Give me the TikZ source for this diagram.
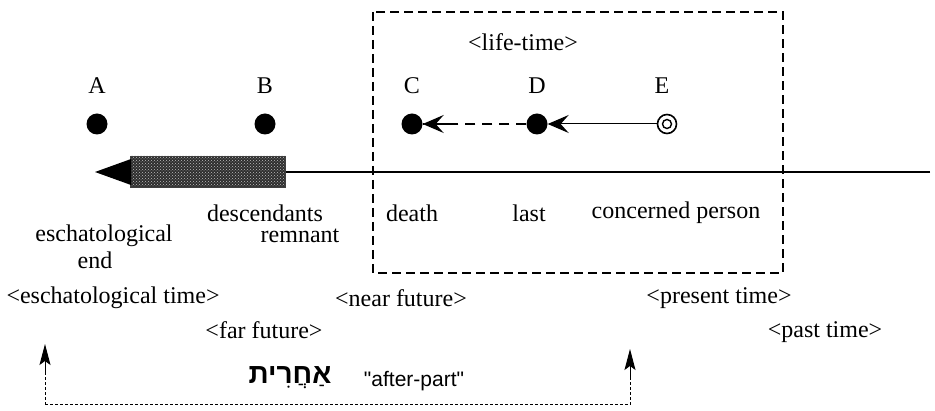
\documentclass[tikz,border=0pt]{standalone}
\usepackage{fontspec}
\setmainfont{Liberation Serif}
\newfontfamily\hebfont[Script=Hebrew]{Liberation Sans}
\newfontfamily\helv{Liberation Sans}
\TeXXeTstate=1
\usetikzlibrary{arrows.meta,patterns}
\begin{document}
\begin{tikzpicture}[x=1pt,y=-1pt,
  lbl/.style={inner sep=0pt,font=\fontsize{24}{28}\selectfont},
  dot/.style={circle,fill=black,inner sep=0pt,minimum size=21pt},
  barb/.style={-{Stealth[length=21pt,width=18pt,inset=8pt]}},
  bracket/.style={densely dashed,line width=1pt},
  brtip/.style={solid,line width=1pt,-{Stealth[length=21pt,width=11pt,inset=4pt]}}]
\useasboundingbox (0,0) rectangle (935,411);
% life-time box
\draw[line width=1.3pt,dash pattern=on 9pt off 5pt] (373,12) rectangle (783,273);
\node[lbl] (life) at (523,42) {<life-time>};
% point labels
\node[lbl] (lA) at (97,86) {A};
\node[lbl] (lB) at (265,86) {B};
\node[lbl] (lC) at (412,86) {C};
\node[lbl] (lD) at (537,86) {D};
\node[lbl] (lE) at (662,86) {E};
% dots
\node[dot] (A) at (97,124) {};
\node[dot] (B) at (265,124) {};
\node[dot] (C) at (412,124) {};
\node[dot] (D) at (537,124) {};
\node[circle,draw,line width=1.6pt,minimum size=19pt,inner sep=0pt] (E) at (667,124) {};
\node[circle,draw,line width=1.4pt,minimum size=9pt,inner sep=0pt] at (E) {};
% arrows between dots
\draw[barb,line width=1pt] (E.west) -- (D.east);
\draw[line width=1.3pt,dash pattern=on 10pt off 7pt] (D.west) -- (C.east);
\coordinate (cb) at (450,124);
\draw[barb,line width=1.3pt,solid] (cb) -- (C.east);
% timeline
\coordinate (tR) at (930,172);
\coordinate (tM) at (285,172);
\coordinate (tip) at (95,172);
\draw[line width=1.2pt] (tR) -- (tM);
\fill[black!82] (130,156) rectangle (285,187);
\fill[pattern=crosshatch dots,pattern color=white!75!black] (130,156) rectangle (285,187);
\draw[line width=0.8pt,black!75] (130,156) rectangle (285,187);
\fill (tip) -- (131,159) -- (131,185) -- cycle;
% labels under line
\node[lbl] (desc) at (265,213) {descendants};
\node[lbl] (remn) at (300,236) {remnant};
\node[lbl] (esch) at (104,236) {eschatological};
\node[lbl] (end) at (95,260) {end};
\node[lbl] (death) at (412,213) {death};
\node[lbl] (last) at (529,213) {last};
\node[lbl] (conc) at (676,213) {concerned person};
% time labels
\node[lbl] (et) at (113,298) {<eschatological time>};
\node[lbl] (nf) at (401,298) {<near future>};
\node[lbl] (pt) at (719,298) {<present time>};
\node[lbl] (ff) at (264,330) {<far future>};
\node[lbl] (past) at (825,332) {<past time>};
% bracket
\coordinate (bl) at (45,405);
\coordinate (br) at (630,405);
\coordinate (blt) at (45,344);
\coordinate (brt) at (630,349);
\coordinate (bla) at (45,372);
\coordinate (bra) at (630,377);
\draw[bracket] (bl) -- (bla);
\draw[bracket] (br) -- (bra);
\draw[brtip] (bla) -- (blt);
\draw[brtip] (bra) -- (brt);
\draw[bracket] (bl) -- (br);
\node[inner sep=0pt,font=\hebfont\bfseries\fontsize{28}{30}\selectfont] (heb) at (290,378) {\beginR אַחֲרִית\endR};
\node[inner sep=0pt,font=\helv\fontsize{21}{24}\selectfont] (ap) at (414,381) {"after-part"};
\end{tikzpicture}
\end{document}
